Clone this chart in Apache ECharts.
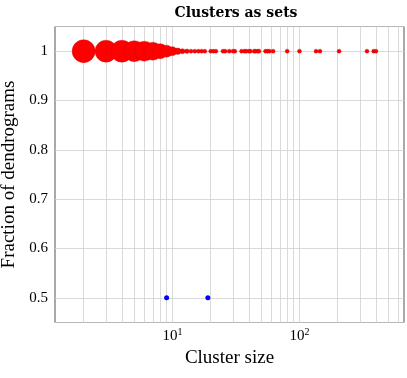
<!DOCTYPE html>
<html>
<head>
<meta charset="utf-8">
<script src="https://cdn.jsdelivr.net/npm/echarts@6/dist/echarts.min.js"></script>
<style>html,body{margin:0;padding:0;background:#fff;}#c{width:407px;height:378px;}</style>
</head>
<body>
<div id="c"></div>
<script>
// ---- data ----
const titleText = 'Clusters as sets';
const xLabel = 'Cluster size';
const yLabel = 'Fraction of dendrograms';
// red series: cluster sizes, fraction, marker weight
const redSizes = [2,3,4,5,6,7,8,9,10,11,12,13,14,15,16,17,18,20,21,22,25,26,28,30,31,35,37,38,40,41,44,45,47,48,54,56,58,62,80,100,135,145,205,340,384,400];
const redFractions = [1,1,1,1,1,1,1,1,1,1,1,1,1,1,1,1,1,1,1,1,1,1,1,1,1,1,1,1,1,1,1,1,1,1,1,1,1,1,1,1,1,1,1,1,1,1];
const redWeights = [23,22,22,21,20,18,15,12,9,6.5,5,4.5,4,4,4,4,4,4,4,4,4,4,4,4,4,4,4,4,4,4,4,4,4,4,4,4,4,4,4,4,4,4,4,4,4,4];
// blue series
const blueSizes = [9,19];
const blueFractions = [0.5,0.5];
// axis ticks
const xGridValues = [2,3,4,5,6,7,8,9,10,20,30,40,50,60,70,80,90,100,200,300,400,500,600];
const xLabelValues = [10,100];
const xLabelExps = ['1','2'];
const xMin = 1.19, xMax = 665;
const yMin = 0.45, yMax = 1.05;

const FONT = 'Liberation Serif';
const chart = echarts.init(document.getElementById('c'), null, {renderer:'canvas'});
const redData = redSizes.map((s,i)=>[s, redFractions[i], redWeights[i]]);
const blueData = blueSizes.map((s,i)=>[s, blueFractions[i]]);
chart.setOption({
  animation:false,
  backgroundColor:'#fff',
  title:{text:titleText,left:231,top:1,textAlign:'center',
    textStyle:{fontFamily:'DejaVu Serif',fontWeight:'bold',fontSize:14,color:'#000'}},
  grid:{left:55,right:3,top:26.5,bottom:55.5,show:true,borderColor:'#555',borderWidth:1,
    backgroundColor:'transparent',containLabel:false,outerBoundsMode:'none'},
  xAxis:{type:'log',logBase:10,min:xMin,max:xMax,
    axisLine:{show:false},axisTick:{show:false},splitLine:{show:false},
    name:xLabel,nameLocation:'middle',nameGap:22,
    nameTextStyle:{fontFamily:FONT,fontSize:19,color:'#000'},
    axisLabel:{margin:5,fontFamily:FONT,fontSize:15,color:'#000',
      showMinLabel:false,showMaxLabel:false,
      formatter:function(v){
        for(let i=0;i<xLabelValues.length;i++){
          if(Math.abs(v-xLabelValues[i])<1e-6*xLabelValues[i]) return '{b|10}{s|'+xLabelExps[i]+'}';
        }
        return '';
      },
      rich:{b:{fontFamily:FONT,fontSize:15,color:'#000'},
            s:{fontFamily:FONT,fontSize:10,color:'#000',verticalAlign:'top',padding:[0,0,7,0]}}}
  },
  yAxis:{type:'value',min:yMin,max:yMax,splitNumber:6,
    axisLine:{show:false},axisTick:{show:false},
    splitLine:{show:true,lineStyle:{color:'#d0d0d0',width:0.8}},
    name:yLabel,nameLocation:'middle',nameGap:36,nameRotate:90,
    nameTextStyle:{fontFamily:FONT,fontSize:19,color:'#000'},
    axisLabel:{margin:7,fontFamily:FONT,fontSize:15,color:'#000',
      formatter:function(v){
        if(Math.abs(v*10-Math.round(v*10))>1e-6) return '';
        return String(Math.round(v*10)/10);
      }}
  },
  series:[
    {type:'line',data:[],silent:true,z:0,
      markLine:{silent:true,z:0,symbol:'none',label:{show:false},
        lineStyle:{color:'#d0d0d0',width:0.8,type:'solid'},
        data:xGridValues.map(v=>({xAxis:v}))}},
    {type:'scatter',data:redData,z:10,
      symbolSize:function(d){return d[2];},
      itemStyle:{color:'#ff0000',borderColor:'rgba(200,0,0,0.6)',borderWidth:0.6,opacity:1}},
    {type:'scatter',data:blueData,z:10,symbolSize:5,
      itemStyle:{color:'#0000ff',opacity:1}}
  ]
});
</script>
</body>
</html>
